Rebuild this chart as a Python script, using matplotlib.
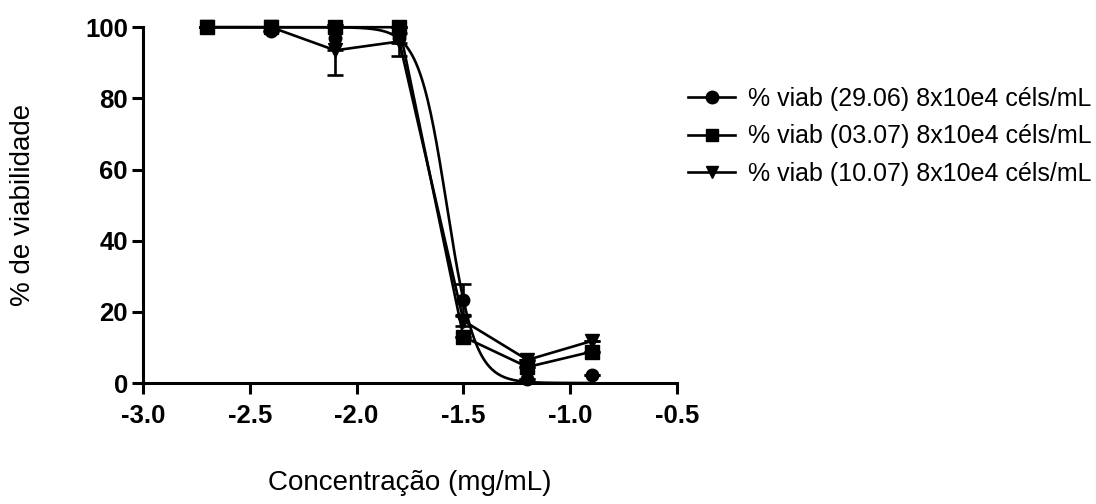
import numpy as np
import matplotlib
matplotlib.use("Agg")
import matplotlib.pyplot as plt
from matplotlib.lines import Line2D

plt.rcParams["font.family"] = ["Liberation Sans", "DejaVu Sans"]

# log10 concentration (mg/mL)
log_conc = [-2.7, -2.4, -2.1, -1.8, -1.5, -1.2, -0.9]

viab_2906 = [100.0, 99.0, 97.0, 97.0, 23.3, 1.0, 2.2]
err_2906 = [0.0, 0.0, 3.5, 1.5, 4.5, 0.0, 0.0]

viab_0307 = [100.0, 100.0, 100.0, 100.0, 13.0, 4.5, 8.8]
err_0307 = [0.0, 0.0, 0.0, 0.0, 0.0, 0.0, 0.0]

viab_1007 = [100.0, 100.0, 93.5, 96.0, 17.5, 6.5, 11.8]
err_1007 = [0.0, 0.0, 7.0, 4.0, 1.5, 0.0, 0.0]

labels = [
    "% viab (29.06) 8x10e4 céls/mL",
    "% viab (03.07) 8x10e4 céls/mL",
    "% viab (10.07) 8x10e4 céls/mL",
]


def fit_sigmoid(x, y, top=100.0):
    """Crude least-squares fit by grid search (top 100, bottom 0 fixed)."""
    x = np.asarray(x)
    y = np.asarray(y)
    best = None
    for lic in np.arange(-1.8, -1.3, 0.002):
        for hill in np.arange(-20, -2, 0.1):
            pred = top / (1 + 10 ** ((lic - x) * hill))
            sse = np.sum((pred - y) ** 2)
            if best is None or sse < best[0]:
                best = (sse, lic, hill)
    return top, best[1], best[2]


fig = plt.figure(figsize=(10.96, 5.04), dpi=100)
ax = fig.add_axes([0.1305, 0.240, 0.4872, 0.706])

lw = 1.9
eb = dict(elinewidth=lw, capsize=6, capthick=lw, clip_on=False, zorder=3, color="black")
# series 1: fitted curve
top, lic, hill = fit_sigmoid(log_conc, viab_2906)
xs = np.linspace(log_conc[0], log_conc[-1], 400)
ax.plot(xs, top / (1 + 10 ** ((lic - xs) * hill)), color="black", lw=lw, clip_on=False)
ax.errorbar(log_conc, viab_2906, yerr=err_2906, fmt="o", ms=9, **eb)

# series 2 and 3: point to point
ax.errorbar(log_conc, viab_0307, yerr=err_0307, fmt="-s", ms=10, lw=lw, **eb)
ax.errorbar(log_conc, viab_1007, yerr=err_1007, fmt="-v", ms=10, lw=lw, **eb)

ax.set_xlim(-3.0, -0.5)
ax.set_ylim(0, 100)
ax.set_xticks([-3.0, -2.5, -2.0, -1.5, -1.0, -0.5])
ax.set_xticklabels(["-3.0", "-2.5", "-2.0", "-1.5", "-1.0", "-0.5"])
ax.set_yticks([0, 20, 40, 60, 80, 100])
for s in ["top", "right"]:
    ax.spines[s].set_visible(False)
for s in ["left", "bottom"]:
    ax.spines[s].set_linewidth(2.2)
ax.tick_params(direction="out", length=8, width=2.2, labelsize=18.5, pad=3)
ax.tick_params(axis="x", pad=7)
for t in ax.get_xticklabels() + ax.get_yticklabels():
    t.set_fontweight("bold")

ax.set_xlabel("Concentração (mg/mL)", fontsize=20, labelpad=30)
ax.set_ylabel("% de viabilidade", fontsize=20, labelpad=35)

handles = [
    Line2D([], [], color="black", lw=lw, marker="o", ms=9),
    Line2D([], [], color="black", lw=lw, marker="s", ms=9),
    Line2D([], [], color="black", lw=lw, marker="v", ms=9),
]
fig.legend(handles, labels, loc="upper left", bbox_to_anchor=(0.607, 0.873),
           frameon=False, fontsize=18, handlelength=1.9, handletextpad=0.5,
           labelspacing=0.55)

fig.savefig("out.png", dpi=100)
